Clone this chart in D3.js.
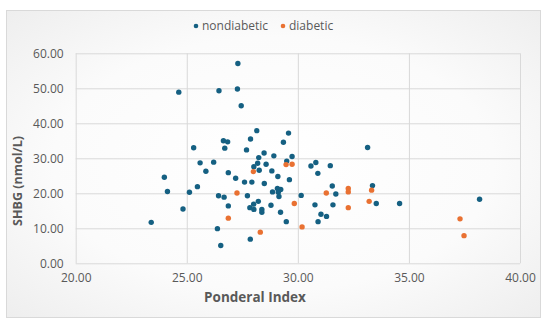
<!DOCTYPE html>
<html>
<head>
<meta charset="utf-8">
<script src="https://cdn.jsdelivr.net/npm/d3@7"></script>
<style>
  body { margin: 0; background: #fff; }
  text { font-family: "Open Sans", "Liberation Sans", sans-serif; fill: #595959; }
</style>
</head>
<body>
<div id="chart"></div>
<script>
// values
var nondiabeticX = [27.30, 24.64, 26.45, 27.28, 27.45, 28.15, 27.87, 26.65, 26.84, 26.71, 25.31, 27.69, 28.48, 28.92, 28.24, 29.58, 29.35, 29.74, 29.50, 28.19, 28.57, 28.02, 28.26, 25.60, 26.21, 30.59, 30.81, 31.46, 30.90, 25.86, 26.87, 27.20, 28.83, 29.10, 29.62, 27.60, 27.93, 28.49, 25.48, 25.12, 28.86, 29.08, 29.23, 29.12, 29.15, 30.15, 26.43, 26.68, 27.73, 23.99, 24.13, 23.40, 24.83, 26.87, 26.38, 26.53, 27.86, 27.84, 28.01, 28.02, 28.22, 28.38, 28.38, 28.79, 29.22, 29.48, 33.14, 31.55, 31.71, 30.77, 31.58, 31.04, 31.29, 30.91, 33.36, 33.53, 34.58, 38.18];
var nondiabeticY = [57.1, 48.9, 49.3, 49.8, 45.0, 37.9, 35.5, 35.0, 34.7, 32.9, 33.0, 32.4, 31.5, 30.7, 30.2, 37.2, 34.6, 30.5, 29.2, 28.6, 28.3, 27.6, 26.6, 28.7, 28.9, 27.8, 28.8, 27.9, 25.7, 26.3, 25.9, 24.3, 26.4, 24.8, 23.9, 23.2, 23.2, 22.8, 21.9, 20.3, 20.4, 21.4, 21.1, 20.3, 19.1, 19.4, 19.3, 18.9, 19.3, 24.6, 20.5, 11.7, 15.5, 16.4, 9.9, 5.1, 6.9, 15.9, 16.9, 15.4, 17.7, 15.4, 14.6, 16.6, 14.6, 11.9, 33.1, 22.1, 19.8, 16.7, 16.7, 14.0, 13.4, 11.9, 22.2, 17.1, 17.1, 18.3];
var diabeticX = [29.47, 29.74, 28.00, 27.26, 31.28, 29.84, 26.87, 28.31, 32.27, 32.27, 32.27, 30.19, 33.32, 33.21, 37.30, 37.48];
var diabeticY = [28.2, 28.3, 26.2, 20.1, 20.1, 17.1, 12.9, 8.9, 21.4, 20.4, 15.9, 10.4, 20.9, 17.7, 12.7, 7.9];
var xTicks = [20, 25, 30, 35, 40];
var yTicks = [0, 10, 20, 30, 40, 50, 60];
var seriesNames = ["nondiabetic", "diabetic"];
var seriesColors = ["#156082", "#e97132"];

var width = 550, height = 330;
var margin = {top: 53.3, left: 75.7, right: 30, bottom: 66.7};
var chartWidth = width - margin.left - margin.right;
var chartHeight = height - margin.top - margin.bottom;

var svg = d3.select("#chart").append("svg")
    .attr("width", width).attr("height", height);

// chart area background
var grad = svg.append("defs").append("radialGradient")
    .attr("id", "bg").attr("cx", "50%").attr("cy", "50%").attr("r", "75%");
grad.append("stop").attr("offset", "0%").attr("stop-color", "#ffffff");
grad.append("stop").attr("offset", "55%").attr("stop-color", "#fbfbfb");
grad.append("stop").attr("offset", "100%").attr("stop-color", "#ececec");

svg.append("rect")
    .attr("x", 6.5).attr("y", 10.5).attr("width", 534).attr("height", 307)
    .attr("fill", "url(#bg)").attr("stroke", "#d9d9d9");

var xScale = d3.scaleLinear().domain([20, 40]).range([0, chartWidth]);
var yScale = d3.scaleLinear().domain([0, 60]).range([chartHeight, 0]);

var g = svg.append("g").attr("transform", "translate(" + [margin.left, margin.top] + ")");

// gridlines
var yGrid = g.append("g").attr("class", "grid y")
    .call(d3.axisLeft(yScale).tickValues(yTicks).tickSize(-chartWidth).tickFormat(""));
var xGrid = g.append("g").attr("class", "grid x")
    .attr("transform", "translate(0," + chartHeight + ")")
    .call(d3.axisBottom(xScale).tickValues(xTicks).tickSize(-chartHeight).tickFormat(""));
g.selectAll(".grid .domain").remove();
g.selectAll(".grid line").attr("stroke", "#d9d9d9").attr("stroke-width", 1);

// tick labels
var fmt = d3.format(".2f");
var yAxis = g.append("g")
    .call(d3.axisLeft(yScale).tickValues(yTicks).tickSize(0).tickPadding(12).tickFormat(fmt));
var xAxis = g.append("g")
    .attr("transform", "translate(0," + chartHeight + ")")
    .call(d3.axisBottom(xScale).tickValues(xTicks).tickSize(0).tickPadding(10).tickFormat(fmt));
[xAxis, yAxis].forEach(function(a) {
    a.select(".domain").remove();
    a.selectAll("text").attr("fill", "#595959")
        .style("font-size", "12px")
        .style("font-family", "'Open Sans', 'Liberation Sans', sans-serif");
});

// axis titles
svg.append("text")
    .attr("x", 255).attr("y", 302)
    .attr("text-anchor", "middle")
    .style("font-size", "13.5px").style("font-weight", "bold")
    .text("Ponderal Index");
svg.append("text")
    .attr("transform", "translate(22,181) rotate(-90)")
    .attr("text-anchor", "middle")
    .style("font-size", "12.5px").style("font-weight", "bold")
    .text("SHBG (nmol/L)");

// points
var series = [
    {x: nondiabeticX, y: nondiabeticY},
    {x: diabeticX, y: diabeticY}
];
series.forEach(function(s, i) {
    g.append("g").selectAll("circle")
        .data(s.x)
        .enter().append("circle")
        .attr("cx", function(d) { return xScale(d); })
        .attr("cy", function(d, j) { return yScale(s.y[j]); })
        .attr("r", 2.7)
        .attr("fill", seriesColors[i]);
});

// legend
var legendX = [196, 283];
var legend = svg.append("g").selectAll("g")
    .data(seriesNames)
    .enter().append("g")
    .attr("transform", function(d, i) { return "translate(" + [legendX[i], 26] + ")"; });
legend.append("circle").attr("r", 2.3)
    .attr("fill", function(d, i) { return seriesColors[i]; });
legend.append("text")
    .attr("x", 6).attr("dy", "0.35em")
    .style("font-size", "12px")
    .text(function(d) { return d; });
</script>
</body>
</html>
